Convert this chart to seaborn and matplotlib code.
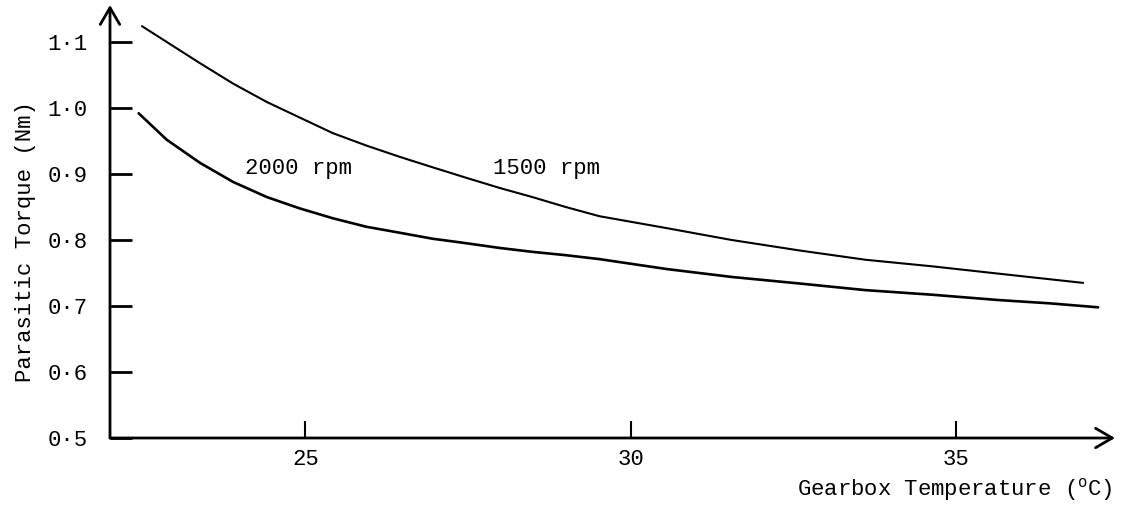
import matplotlib
matplotlib.use("Agg")
import matplotlib.pyplot as plt
import seaborn as sns
import pandas as pd

# ---- data ----
temp_1500 = [22.49, 23.38, 23.89, 24.41, 25.42, 25.94, 26.45, 26.96, 27.48, 27.98,
             28.49, 29.0, 29.52, 30.55, 31.55, 32.6, 33.61, 34.64, 35.65, 36.95]
torque_1500 = [1.124, 1.068, 1.037, 1.009, 0.962, 0.943, 0.926, 0.910, 0.894, 0.879,
               0.865, 0.850, 0.836, 0.818, 0.800, 0.784, 0.770, 0.760, 0.749, 0.735]

temp_2000 = [22.44, 22.87, 23.38, 23.89, 24.41, 24.91, 25.42, 25.94, 26.45, 26.95,
             27.48, 27.98, 28.49, 29.0, 29.52, 30.55, 31.55, 32.6, 33.61, 34.64,
             35.65, 36.44, 37.18]
torque_2000 = [0.992, 0.952, 0.917, 0.888, 0.865, 0.848, 0.833, 0.820, 0.811, 0.802,
               0.795, 0.788, 0.782, 0.777, 0.771, 0.756, 0.744, 0.734, 0.724, 0.717,
               0.709, 0.704, 0.698]

series_labels = ["1500 rpm", "2000 rpm"]
x_ticks = [25, 30, 35]
x_ticklabels = ["25", "30", "35"]
y_ticks = [0.5, 0.6, 0.7, 0.8, 0.9, 1.0, 1.1]
y_ticklabels = ["0·5", "0·6", "0·7", "0·8", "0·9", "1·0", "1·1"]
x_label = "Gearbox Temperature ($^{\\mathrm{o}}$C)"
y_label = "Parasitic Torque (Nm)"

df = pd.concat([
    pd.DataFrame({"temp": temp_1500, "torque": torque_1500, "speed": series_labels[0]}),
    pd.DataFrame({"temp": temp_2000, "torque": torque_2000, "speed": series_labels[1]}),
])

sns.set_style("white")
plt.rcParams["font.family"] = ["Liberation Mono", "DejaVu Sans Mono"]
plt.rcParams["mathtext.fontset"] = "custom"
plt.rcParams["mathtext.rm"] = "Liberation Mono"
plt.rcParams["font.size"] = 16
for k in ["text.color", "axes.labelcolor", "xtick.color", "ytick.color"]:
    plt.rcParams[k] = "black"

W, H = 1139, 521
fig = plt.figure(figsize=(W / 100, H / 100), dpi=100)
ax = fig.add_axes([110 / W, 1 - 438 / H, (1115 - 110) / W, (438 - 5) / H])

sns.lineplot(data=df, x="temp", y="torque", hue="speed", units="speed",
             estimator=None, sort=False, palette=["black", "black"],
             legend=False, ax=ax)
for line, lw in zip(ax.get_lines(), [1.5, 1.9]):
    line.set_linewidth(lw)
    line.set_solid_joinstyle("round")

ax.set_xlim(22.0, 37.44)
ax.set_ylim(0.5, 1.156)

for s in ax.spines.values():
    s.set_visible(False)

arrow_kw = dict(arrowstyle="->,head_length=0.6,head_width=0.35", lw=2.0,
                color="black", shrinkA=0, shrinkB=0, mutation_scale=20)
ax.annotate("", xy=(0, 1), xytext=(0, 0), xycoords="axes fraction",
            textcoords="axes fraction", arrowprops=arrow_kw, annotation_clip=False)
ax.annotate("", xy=(1, 0), xytext=(0, 0), xycoords="axes fraction",
            textcoords="axes fraction", arrowprops=arrow_kw, annotation_clip=False)

ax.set_xticks(x_ticks)
ax.set_xticklabels(x_ticklabels)
ax.set_yticks(y_ticks)
ax.set_yticklabels(y_ticklabels)
ax.tick_params(axis="y", direction="in", length=16, width=2, pad=16,
               labelsize=16, colors="black", left=True)
ax.tick_params(axis="x", direction="in", length=12, width=1.5, pad=8,
               labelsize=16, colors="black", bottom=True)

ax.set_ylabel(y_label, fontsize=16)
ax.yaxis.set_label_coords(-0.074, 0.453)
ax.set_xlabel(x_label, fontsize=16, ha="right")
ax.xaxis.set_label_coords(0.998, -0.088)

ax.text(24.07, 0.909, series_labels[1], fontsize=16, va="center", ha="left")
ax.text(27.88, 0.909, series_labels[0], fontsize=16, va="center", ha="left")

fig.savefig("out.png", dpi=100)
